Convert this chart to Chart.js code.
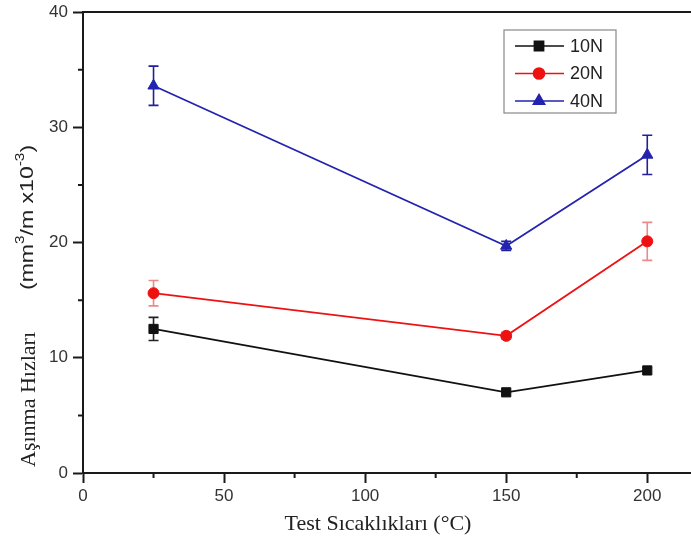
<!DOCTYPE html>
<html>
<head>
<meta charset="utf-8">
<script src="https://cdn.jsdelivr.net/npm/chart.js@4"></script>
<style>
  html, body { margin: 0; padding: 0; background: #fff; }
  canvas { display: block; }
</style>
</head>
<body>
<canvas id="wear" width="691" height="552"></canvas>
<script>
// Test temperatures (°C)
const temps = [25, 150, 200];

// Wear rates (mm3/m x10-3) and their error bars
const wear10N = [12.5, 7.0, 8.9];
const err10N  = [1.0, 0.2, 0.2];
const wear20N = [15.6, 11.9, 20.1];
const err20N  = [1.1, 0.3, 1.65];
const wear40N = [33.6, 19.7, 27.6];
const err40N  = [1.7, 0.4, 1.7];

const xTicks = [0, 50, 100, 150, 200];
const yTicks = [0, 10, 20, 30, 40];
const xMinor = [25, 75, 125, 175];
const yMinor = [5, 15, 25, 35];

const sans  = "'Liberation Sans', Arial, sans-serif";
const serif = "'Liberation Serif', 'Times New Roman', serif";

const series = [
    { label: '10N', data: wear10N, err: err10N, color: '#111111', errColor: '#222222', point: 'rect',     radius: 6.5 },
    { label: '20N', data: wear20N, err: err20N, color: '#ee1111', errColor: 'rgba(220,40,40,0.55)', point: 'circle', radius: 5.5 },
    { label: '40N', data: wear40N, err: err40N, color: '#2323b0', errColor: '#20209a', point: 'triangle', radius: 6.5 }
];

// error bars, minor ticks, frame, titles and legend
const extras = {
    id: 'extras',
    beforeDatasetsDraw(chart) {
        const { ctx, scales: { x, y } } = chart;
        ctx.save();
        ctx.lineWidth = 1.6;
        series.forEach(s => {
            ctx.strokeStyle = s.errColor;
            s.data.forEach((v, i) => {
                if (s.err[i] < 0.3) return;
                const px = x.getPixelForValue(temps[i]);
                const top = y.getPixelForValue(v + s.err[i]);
                const bot = y.getPixelForValue(v - s.err[i]);
                ctx.beginPath();
                ctx.moveTo(px, top); ctx.lineTo(px, bot);
                ctx.moveTo(px - 5, top); ctx.lineTo(px + 5, top);
                ctx.moveTo(px - 5, bot); ctx.lineTo(px + 5, bot);
                ctx.stroke();
            });
        });
        ctx.restore();
    },
    afterDraw(chart) {
        const { ctx, chartArea: a, scales: { x, y } } = chart;
        ctx.save();

        // top frame line and minor ticks
        ctx.strokeStyle = '#1a1a1a';
        ctx.lineWidth = 2;
        ctx.beginPath();
        ctx.moveTo(a.left - 1, a.top); ctx.lineTo(a.right, a.top);
        xMinor.forEach(v => {
            const px = x.getPixelForValue(v);
            ctx.moveTo(px, a.bottom); ctx.lineTo(px, a.bottom + 5);
        });
        yMinor.forEach(v => {
            const py = y.getPixelForValue(v);
            ctx.moveTo(a.left - 5, py); ctx.lineTo(a.left, py);
        });
        ctx.stroke();

        // x title
        ctx.fillStyle = '#222';
        ctx.font = '22px ' + serif;
        ctx.textAlign = 'center';
        ctx.textBaseline = 'alphabetic';
        ctx.fillText('Test Sıcaklıkları (°C)', 378, 530);

        // y title, rotated
        ctx.save();
        ctx.translate(35, 467);
        ctx.rotate(-Math.PI / 2);
        ctx.textAlign = 'left';
        ctx.font = '22px ' + serif;
        ctx.fillText('Aşınma Hızları', 0, 0);
        ctx.translate(177, 0);
        ctx.scale(1.28, 1);
        let cx = 0;
        const part = (txt, font, dy) => {
            ctx.font = font;
            ctx.fillText(txt, cx, dy);
            cx += ctx.measureText(txt).width;
        };
        part('(mm', '18px ' + sans, -2);
        part('3', '12px ' + sans, -11);
        part('/m x10', '18px ' + sans, -2);
        part('-3', '12px ' + sans, -11);
        part(')', '18px ' + sans, -2);
        ctx.restore();

        // legend
        ctx.strokeStyle = '#888';
        ctx.lineWidth = 1.2;
        ctx.strokeRect(504, 30, 112, 83);
        series.forEach((s, i) => {
            const ly = 46 + i * 27.5;
            ctx.strokeStyle = s.color;
            ctx.lineWidth = 1.6;
            ctx.beginPath();
            ctx.moveTo(515, ly); ctx.lineTo(564, ly);
            ctx.stroke();
            ctx.fillStyle = s.color;
            Chart.helpers.drawPoint(ctx, { pointStyle: s.point, radius: s.radius, borderWidth: 1 }, 539, ly);
            ctx.fill();
            ctx.fillStyle = '#222';
            ctx.font = '18px ' + sans;
            ctx.textAlign = 'left';
            ctx.textBaseline = 'middle';
            ctx.fillText(s.label, 570, ly + 1);
        });
        ctx.restore();
    }
};

// keep the plot frame where the reference has it, whatever the label overhang
function noOverhang(s) {
    s.paddingTop = 0;
    s.paddingBottom = 0;
    s.paddingLeft = 0;
    s.paddingRight = 0;
}

new Chart(document.getElementById('wear'), {
    type: 'line',
    data: {
        datasets: series.map(s => ({
            label: s.label,
            data: s.data.map((v, i) => ({ x: temps[i], y: v })),
            borderColor: s.color,
            backgroundColor: s.color,
            borderWidth: 1.8,
            pointStyle: s.point,
            pointRadius: s.radius,
            pointBorderWidth: 1,
            tension: 0,
            fill: false,
            clip: false
        }))
    },
    options: {
        responsive: false,
        animation: false,
        layout: { autoPadding: false, padding: { top: 12, left: 0, right: 0, bottom: 0 } },
        scales: {
            x: {
                type: 'linear',
                min: 0,
                max: 215.5,
                afterBuildTicks: s => { s.ticks = xTicks.map(v => ({ value: v })); },
                afterFit: s => { s.height = 79; noOverhang(s); },
                grid: { drawOnChartArea: false, tickLength: 10, tickWidth: 2, tickColor: '#1a1a1a' },
                border: { color: '#1a1a1a', width: 2 },
                ticks: { font: { family: sans, size: 17 }, color: '#333', padding: 3, maxRotation: 0 }
            },
            y: {
                min: 0,
                max: 40,
                afterBuildTicks: s => { s.ticks = yTicks.map(v => ({ value: v })); },
                afterFit: s => { s.width = 83; noOverhang(s); },
                grid: { drawOnChartArea: false, tickLength: 10, tickWidth: 2, tickColor: '#1a1a1a' },
                border: { color: '#1a1a1a', width: 2 },
                ticks: { font: { family: sans, size: 17 }, color: '#333', padding: 5 }
            }
        },
        plugins: {
            legend: { display: false },
            tooltip: { enabled: false }
        }
    },
    plugins: [extras]
});
</script>
</body>
</html>
